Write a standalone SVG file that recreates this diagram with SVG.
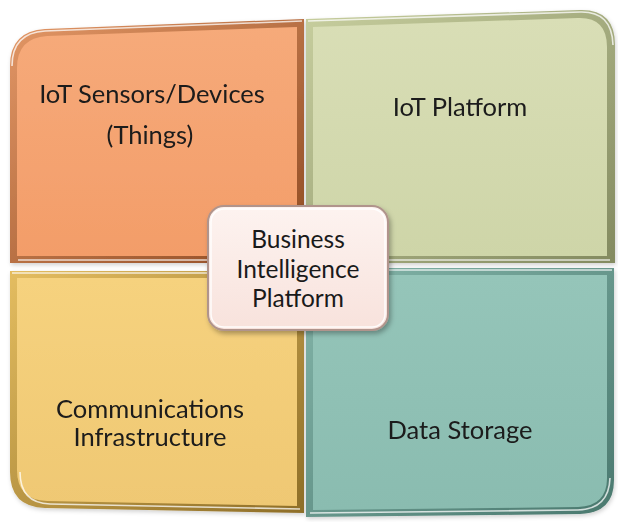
<svg xmlns="http://www.w3.org/2000/svg" width="618" height="522" viewBox="0 0 618 522">
<style>
.lbl{font-family:Lato,"Liberation Sans",sans-serif;font-size:25.5px;fill:#1a1a1a;text-anchor:middle}
.c{font-size:24.5px}
.hl{fill:none;stroke:#ffffff;stroke-opacity:0.75;stroke-width:1.6}
</style>
<defs>
<linearGradient id="gO" x1="0" y1="0" x2="0" y2="1"><stop offset="0" stop-color="#F6AA7A"/><stop offset="1" stop-color="#F39D69"/></linearGradient>
<linearGradient id="gOe" x1="0" y1="0" x2="1" y2="1"><stop offset="0" stop-color="#E39766"/><stop offset="1" stop-color="#8E4A22"/></linearGradient>
<linearGradient id="gG" x1="0" y1="0" x2="0" y2="1"><stop offset="0" stop-color="#D9DEB6"/><stop offset="1" stop-color="#CED5A8"/></linearGradient>
<linearGradient id="gGe" x1="0" y1="0" x2="1" y2="1"><stop offset="0" stop-color="#C7CE9E"/><stop offset="1" stop-color="#838A60"/></linearGradient>
<linearGradient id="gY" x1="0" y1="0" x2="0" y2="1"><stop offset="0" stop-color="#F6D27E"/><stop offset="1" stop-color="#EFC873"/></linearGradient>
<linearGradient id="gYe" x1="0" y1="0" x2="1" y2="1"><stop offset="0" stop-color="#E4BD60"/><stop offset="1" stop-color="#8E6E28"/></linearGradient>
<linearGradient id="gT" x1="0" y1="0" x2="0" y2="1"><stop offset="0" stop-color="#95C5B9"/><stop offset="1" stop-color="#8ABCB0"/></linearGradient>
<linearGradient id="gTe" x1="0" y1="0" x2="1" y2="1"><stop offset="0" stop-color="#84B6AA"/><stop offset="1" stop-color="#4A786E"/></linearGradient>
<linearGradient id="gB" x1="0" y1="0" x2="0" y2="1"><stop offset="0" stop-color="#FDF3F0"/><stop offset="1" stop-color="#F8E2DC"/></linearGradient>
<filter id="sh" x="-10%" y="-10%" width="130%" height="130%"><feDropShadow dx="2" dy="3" stdDeviation="2.5" flood-color="#000" flood-opacity="0.3"/></filter>
<filter id="sh2" x="-5%" y="-5%" width="115%" height="115%"><feDropShadow dx="1" dy="2" stdDeviation="2" flood-color="#000" flood-opacity="0.18"/></filter>
</defs>

<g id="iot-sensors" filter="url(#sh2)">
<path d="M10,263 L10,66 Q10,31 45,29 L304,19 L304,263 Z" fill="url(#gOe)"/>
<path d="M17,256 L17,68 Q17,38 47,36 L297,27 L297,256 Z" fill="url(#gO)"/>
<path class="hl" d="M12,66 Q12,33 45,31 L302,21"/>
<path class="hl" d="M18,260 L300,260"/>
<text class="lbl" x="152" y="103">IoT Sensors/Devices</text>
<text class="lbl" x="150" y="144">(Things)</text>
</g>

<g id="iot-platform" filter="url(#sh2)">
<path d="M306,19 L580,10 Q615,9 615,45 L615,263 L306,263 Z" fill="url(#gGe)"/>
<path d="M313,27 L578,18 Q607,17 607,47 L607,256 L313,256 Z" fill="url(#gG)"/>
<path class="hl" d="M308,21 L580,12 Q612,11 613,45"/>
<path class="hl" d="M310,260 L610,260"/>
<text class="lbl" x="460" y="116">IoT Platform</text>
</g>

<g id="communications" filter="url(#sh2)">
<path d="M10,271 L304,271 L304,513 L45,508 Q10,507 10,472 Z" fill="url(#gYe)"/>
<path d="M17,278 L297,278 L297,506 L47,501 Q17,500 17,470 Z" fill="url(#gY)"/>
<path class="hl" d="M12,273 L302,273"/>
<path class="hl" d="M20,472 Q20,503 50,504 L300,509"/>
<text class="lbl" x="150" y="418">Communications</text>
<text class="lbl" x="150" y="446">Infrastructure</text>
</g>

<g id="data-storage" filter="url(#sh2)">
<path d="M306,268 L614,268 L614,480 Q614,513 580,514 L306,517 Z" fill="url(#gTe)"/>
<path d="M313,275 L607,275 L607,478 Q607,506 578,507 L313,510 Z" fill="url(#gT)"/>
<path class="hl" d="M308,270 L612,270"/>
<path class="hl" d="M310,513 L578,510 Q609,509 610,478"/>
<text class="lbl" x="460" y="439">Data Storage</text>
</g>

<g id="bi-platform">
<rect x="208" y="206" width="180" height="124" rx="16" fill="url(#gB)" stroke="#B0948C" stroke-width="2" filter="url(#sh)"/>
<rect x="211" y="209" width="174" height="118" rx="13" fill="none" stroke="#ffffff" stroke-width="1.5" stroke-opacity="0.9"/>
<text class="lbl c" x="298" y="248">Business</text>
<text class="lbl c" x="298" y="278">Intelligence</text>
<text class="lbl c" x="298" y="307">Platform</text>
</g>
</svg>
